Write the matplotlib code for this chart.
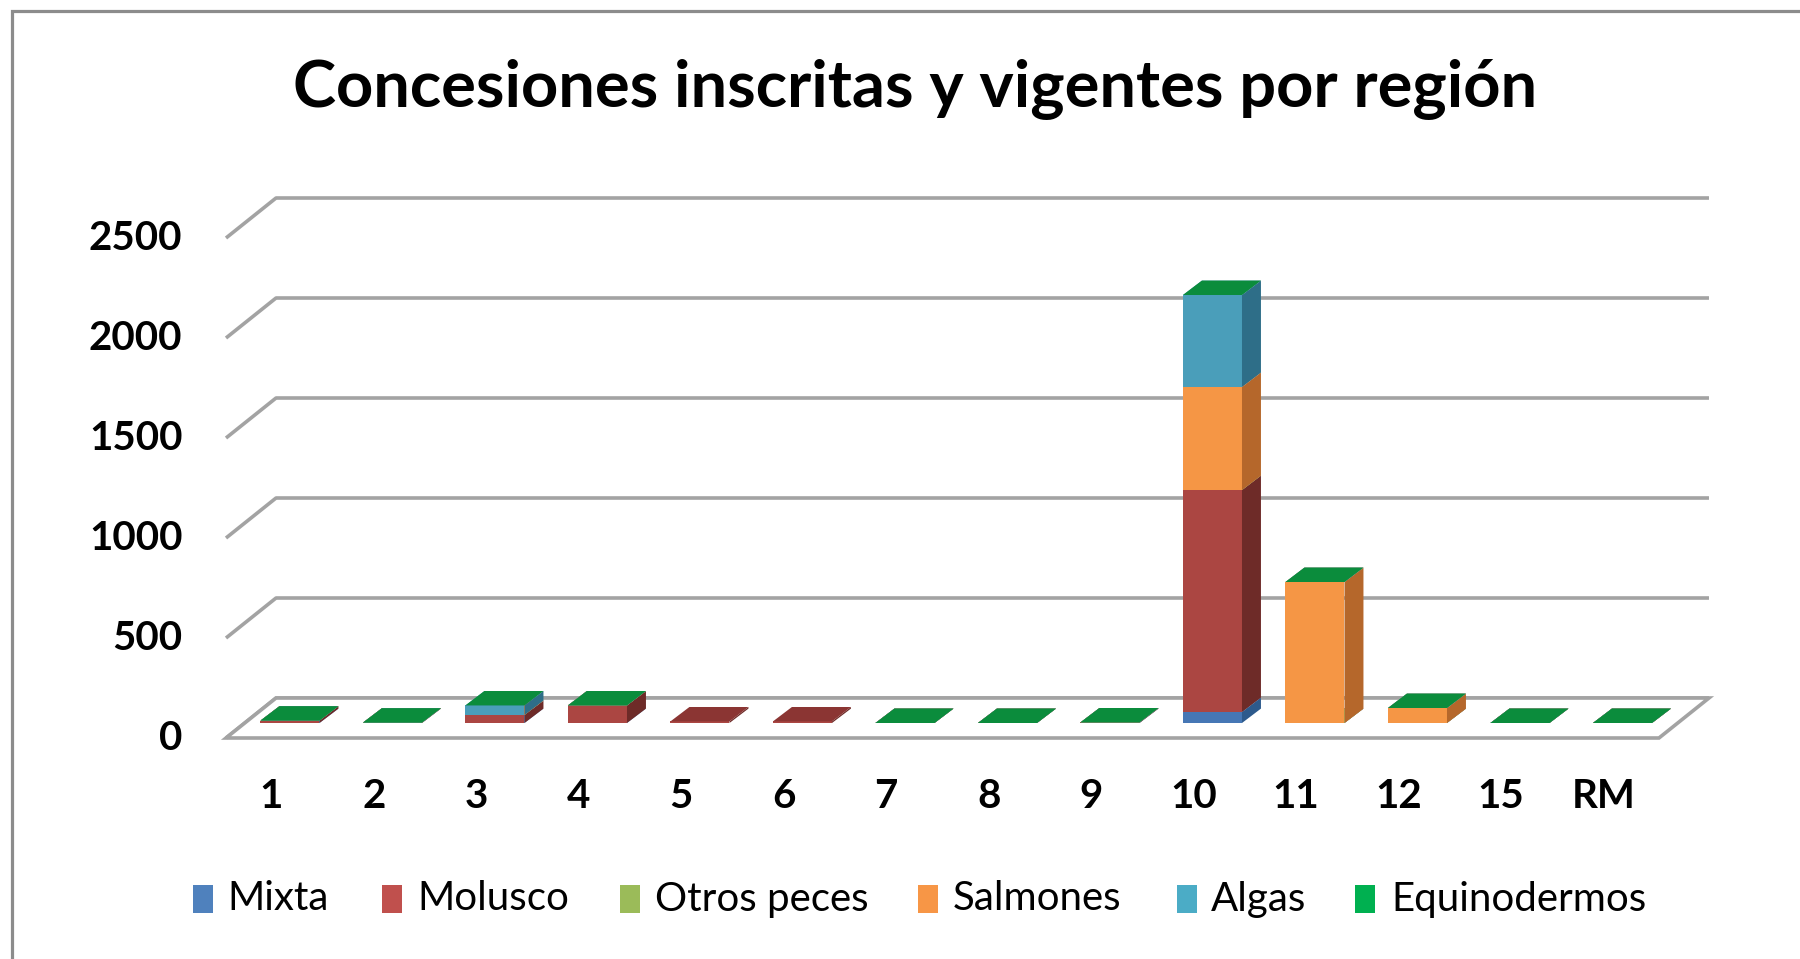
import numpy as np
import matplotlib
matplotlib.use("Agg")
import matplotlib.pyplot as plt
from matplotlib.patches import Polygon, Rectangle

# ---------------- data ----------------
regions = ['1', '2', '3', '4', '5', '6', '7', '8', '9', '10', '11', '12', '15', 'RM']
series_names = ['Mixta', 'Molusco', 'Otros peces', 'Salmones', 'Algas', 'Equinodermos']
nan = np.nan
mixta = [0, 0, 0, 0, nan, nan, 0, 0, 0, 55, 0, 0, 0, 0]
molusco = [12, 2, 40, 88, 8, 8, 0, 0, 3, 1110, 0, 0, 0, 0]
otros_peces = [0, 0, 0, 0, nan, nan, 0, 0, 0, 0, 0, 0, 0, 0]
salmones = [0, 0, 0, 0, nan, nan, 0, 0, 0, 515, 705, 75, 0, 0]
algas = [0, 0, 48, 0, nan, nan, 0, 0, 0, 460, 0, 0, 0, 0]
equinodermos = [0, 0, 0, 0, nan, nan, 0, 0, 0, 0, 0, 0, 0, 0]
yticks = [0, 500, 1000, 1500, 2000, 2500]
title = 'Concesiones inscritas y vigentes por región'

# ---------------- styles ----------------
legend_colors = ['#4F81BD', '#C0504D', '#9BBB59', '#F79646', '#4BACC6', '#00B050']
front_colors = ['#4677B5', '#AB4642', '#92B055', '#F59645', '#4A9EBA', '#0E9A45']
side_colors = ['#2D5A8C', '#6E2B28', '#637A35', '#B5672B', '#2E6E88', '#0A6E30']
top_colors = ['#5B86C0', '#8B3533', '#A8C46A', '#E98C40', '#3F8FA8', '#0B8C3C']
grid_color = '#A3A3A3'

W, H = 1800, 959
fig = plt.figure(figsize=(W / 100, H / 100), dpi=100)
ax = fig.add_axes([0, 0, 1, 1])
ax.set_xlim(-2.829, 14.732)
ax.set_ylim(-1180, 3615)
ax.axis('off')

FONT = 'Lato'

# 3-D geometry (in data units)
bw = 0.576                  # bar width
bdx, bdy = 0.185, 72        # bar depth vector
floor_front = (-0.183, -75)  # offset of floor front edge from bar plane
depth = (0.488, 200)        # full floor depth vector
x_left_front = -0.624
x_right_front = 13.356

# figure border (left/top visible)
fig.add_artist(Rectangle((12 / W, -0.1), 1.2, (H - 11) / H + 0.1, transform=fig.transFigure,
                         fill=False, edgecolor='#8C8C8C', linewidth=2.3, zorder=0))

# gridlines on back wall + left wall
ybase_front = floor_front[1]
for v in yticks:
    yf = v + ybase_front
    yb = yf + depth[1]
    xb_left = x_left_front + depth[0]
    xb_right = x_right_front + depth[0]
    ax.plot([x_left_front, xb_left, xb_right], [yf, yb, yb], color=grid_color, lw=2.6,
            solid_capstyle='butt', zorder=1)
    ax.text(-1.05, yf, str(v), ha='right', va='center', fontsize=29, fontweight='bold',
            family=FONT, color='black')

# floor plate
floor = Polygon([(x_left_front, ybase_front), (x_right_front, ybase_front),
                 (x_right_front + depth[0], ybase_front + depth[1]),
                 (x_left_front + depth[0], ybase_front + depth[1])],
                closed=True, facecolor='white', edgecolor=grid_color, lw=2.6, zorder=2)
ax.add_patch(floor)

# stacked 3-D bars
data = [mixta, molusco, otros_peces, salmones, algas, equinodermos]
x = np.arange(len(regions))
bottoms = np.zeros(len(regions))
for k, vals in enumerate(data):
    vals = np.array(vals, dtype=float)
    h = np.nan_to_num(vals)
    z = 10 + k
    ax.bar(x, h, bottom=bottoms, width=bw, color=front_colors[k], linewidth=0, zorder=z)
    for i in range(len(regions)):
        if np.isnan(vals[i]):
            continue
        x0 = x[i] - bw / 2
        x1 = x[i] + bw / 2
        y0 = bottoms[i]
        y1 = bottoms[i] + h[i]
        if h[i] > 0:
            ax.add_patch(Polygon([(x1, y0), (x1 + bdx, y0 + bdy), (x1 + bdx, y1 + bdy), (x1, y1)],
                                 closed=True, facecolor=side_colors[k], lw=0, zorder=z))
        ax.add_patch(Polygon([(x0, y1), (x1, y1), (x1 + bdx, y1 + bdy), (x0 + bdx, y1 + bdy)],
                             closed=True, facecolor=top_colors[k], lw=0, zorder=z))
    bottoms = bottoms + h

# category labels
for i, r in enumerate(regions):
    ax.text(x[i] + floor_front[0], -365, r, ha='center', va='center', fontsize=29,
            fontweight='bold', family=FONT, color='black')

# title
fig.text(915 / W, 1 - 90 / H, title, ha='center', va='center', fontsize=46.8,
         fontweight='bold', family=FONT, color='black')

# legend (manual)
sq_x = [193, 382, 620, 918, 1177, 1355]
txt_x = [227, 417, 655, 953, 1211, 1391]
for k, name in enumerate(series_names):
    fig.add_artist(Rectangle((sq_x[k] / W, 1 - 913 / H), 20 / W, 28 / H, transform=fig.transFigure,
                             facecolor=legend_colors[k], edgecolor='none'))
    fig.text(txt_x[k] / W, 1 - 899 / H, name, ha='left', va='center', fontsize=29,
             family=FONT, color='black')

fig.savefig('out.png', dpi=100, facecolor='white')
